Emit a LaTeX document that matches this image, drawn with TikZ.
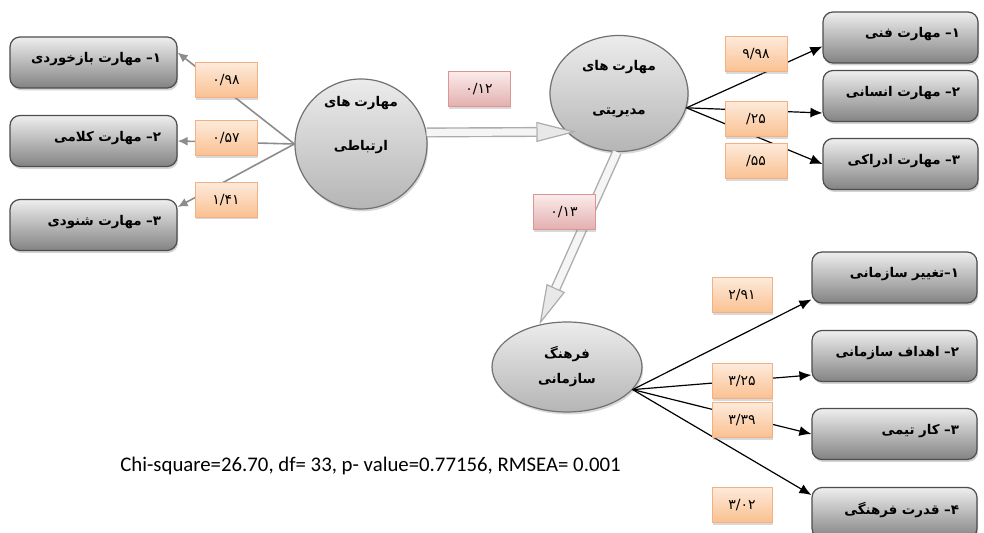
\documentclass[tikz,border=0pt]{standalone}
\usepackage{fontspec}
\setmainfont{DejaVu Sans}
\newfontfamily\farsi[Script=Arabic, WordSpace=0.8]{DejaVu Sans}
\newfontfamily\calib{Carlito}
\TeXXeTstate=1
\usetikzlibrary{arrows.meta,shadows,shapes.geometric}

\definecolor{skillline}{HTML}{4D4D4D}
\definecolor{skilltop}{HTML}{EEEEEE}
\definecolor{skillbot}{HTML}{838383}
\definecolor{coeftop}{HTML}{FDEADA}
\definecolor{coefbot}{HTML}{FAC090}
\definecolor{coefline}{HTML}{F2B084}
\definecolor{pathtop}{HTML}{FBEAEA}
\definecolor{pathbot}{HTML}{E2AFAE}
\definecolor{pathline}{HTML}{D99694}

\tikzset{
  skill/.style={rectangle, rounded corners=5pt, draw=skillline, line width=0.6pt,
    top color=skilltop, bottom color=skillbot, minimum height=25.5pt,
    align=right, inner xsep=8pt, text width=67.5pt, text depth=5pt,
    drop shadow={shadow xshift=0.6pt, shadow yshift=-1.2pt, opacity=0.35},
    font=\farsi\bfseries\fontsize{6.7}{8}\selectfont},
  factor/.style={ellipse, draw=skillline!80, line width=0.6pt, inner sep=0pt,
    top color=gray!15, bottom color=gray!58,
    drop shadow={shadow xshift=0.6pt, shadow yshift=-1.2pt, opacity=0.3}},
  factortext/.style={align=center, font=\farsi\bfseries\fontsize{6.7}{8}\selectfont},
  coef/.style={rectangle, draw=coefline, line width=0.5pt, top color=coeftop, bottom color=coefbot,
    minimum width=31pt, minimum height=17.5pt, inner sep=0pt,
    drop shadow={shadow xshift=0.4pt, shadow yshift=-1pt, opacity=0.3},
    font=\farsi\fontsize{7}{8}\selectfont},
  pathcoef/.style={coef, draw=pathline, top color=pathtop, bottom color=pathbot},
  leftlink/.style={draw=gray!90, line width=0.8pt, -{Latex[length=5pt, width=4.5pt]}},
  rightlink/.style={draw=black, line width=0.6pt, -{Latex[length=6pt, width=5pt]}},
  hollow/.style={draw=gray!65, line width=5pt,
    -{Triangle[length=20pt, width=10pt, line width=0.6pt, fill=gray!18]},
    postaction={draw=gray!8, line width=3.6pt, -, shorten >=20pt}}
}

\begin{document}
\begin{tikzpicture}[x=0.5pt, y=-0.5pt]
  \useasboundingbox (0,0) rectangle (984,533);

  % latent factors
  \node[factor, minimum width=66pt, minimum height=65pt,
    label={[factortext, yshift=9.5pt]center:{\beginR مهارت های\endR\\[14pt]\beginR ارتباطی\endR}}] (comm) at (361,144) {};
  \node[factor, minimum width=69pt, minimum height=58pt,
    label={[factortext, yshift=2pt]center:{\beginR مهارت های\endR\\[14pt]\beginR مدیریتی\endR}}] (mgmt) at (619,93.5) {};
  \node[factor, minimum width=75pt, minimum height=45pt,
    label={[factortext]center:{\beginR فرهنگ\endR\\[4.5pt]\beginR سازمانی\endR}}] (cult) at (567,367) {};

  % communication skills
  \node[skill] (feedback) at (93.5,62.5) {\beginR ۱– مهارت بازخوردی\endR};
  \node[skill] (verbal) at (93.5,141) {\beginR ۲– مهارت کلامی\endR};
  \node[skill] (listen) at (93.5,225) {\beginR ۳– مهارت شنودی\endR};
  \draw[leftlink] (comm.west) -- ([yshift=5pt]feedback.east);
  \draw[leftlink] (comm.west) -- (verbal.east);
  \draw[leftlink] (comm.west) -- ([yshift=9pt]listen.east);
  \node[coef] (c1) at (226,80.5) {۰/۹۸};
  \node[coef] (c2) at (226,138.5) {۰/۵۷};
  \node[coef] (c3) at (226,200) {۱/۴۱};

  % management skills
  \node[skill, text width=59.5pt, inner xsep=9pt] (tech) at (900.5,37.5) {\beginR ۱– مهارت فنی\endR};
  \node[skill, text width=59.5pt, inner xsep=9pt] (human) at (900.5,96) {\beginR ۲– مهارت انسانی\endR};
  \node[skill, text width=59.5pt, inner xsep=9pt] (concept) at (900.5,164) {\beginR ۳– مهارت ادراکی\endR};
  \draw[rightlink] (mgmt.-12) -- ([yshift=-4.5pt]tech.west);
  \draw[rightlink] (mgmt.-12) -- ([yshift=-8.5pt]human.west);
  \draw[rightlink] (mgmt.-12) -- (concept.west);
  \node[coef] (m1) at (756,54.5) {۹/۹۸};
  \node[coef] (m2) at (756,119.5) {۲۵/};
  \node[coef] (m3) at (756,161.5) {۵۵/};

  % organisational culture
  \node[skill, text width=64.5pt, inner xsep=9pt] (change) at (894.5,277.5) {\beginR ۱–تغییر سازمانی\endR};
  \node[skill, text width=64.5pt, inner xsep=9pt] (goals) at (894.5,356) {\beginR ۲– اهداف سازمانی\endR};
  \node[skill, text width=64.5pt, inner xsep=9pt] (team) at (894.5,434) {\beginR ۳– کار تیمی\endR};
  \node[skill, text width=64.5pt, inner xsep=9pt] (power) at (894.5,513) {\beginR ۴– قدرت فرهنگی\endR};
  \draw[rightlink] (cult.-19) -- ([yshift=-11pt]change.west);
  \draw[rightlink] (cult.-19) -- ([yshift=-9.5pt]goals.west);
  \draw[rightlink] (cult.-19) -- (team.west);
  \draw[rightlink] (cult.-19) -- ([yshift=9pt]power.west);
  \node[coef, minimum width=30pt] (o1) at (742,295.5) {۲/۹۱};
  \node[coef, minimum width=30pt] (o2) at (742,381.5) {۳/۲۵};
  \node[coef, minimum width=30pt] (o3) at (742,420.5) {۳/۳۹};
  \node[coef, minimum width=30pt] (o4) at (742,505) {۳/۰۲};

  % structural paths
  \draw[hollow] (comm.10) -- ([xshift=5pt]mgmt.216);
  \draw[hollow] (mgmt.268) -- (cult.123);
  \node[pathcoef] (p1) at (479,89.5) {۰/۱۲};
  \node[pathcoef] (p2) at (564,212.5) {۰/۱۳};

  % fit indices
  \node[font=\calib\fontsize{10.4}{12}\selectfont] (fit) at (370.5,466)
    {Chi-square=26.70, df= 33, p- value=0.77156, RMSEA= 0.001};
\end{tikzpicture}
\end{document}
